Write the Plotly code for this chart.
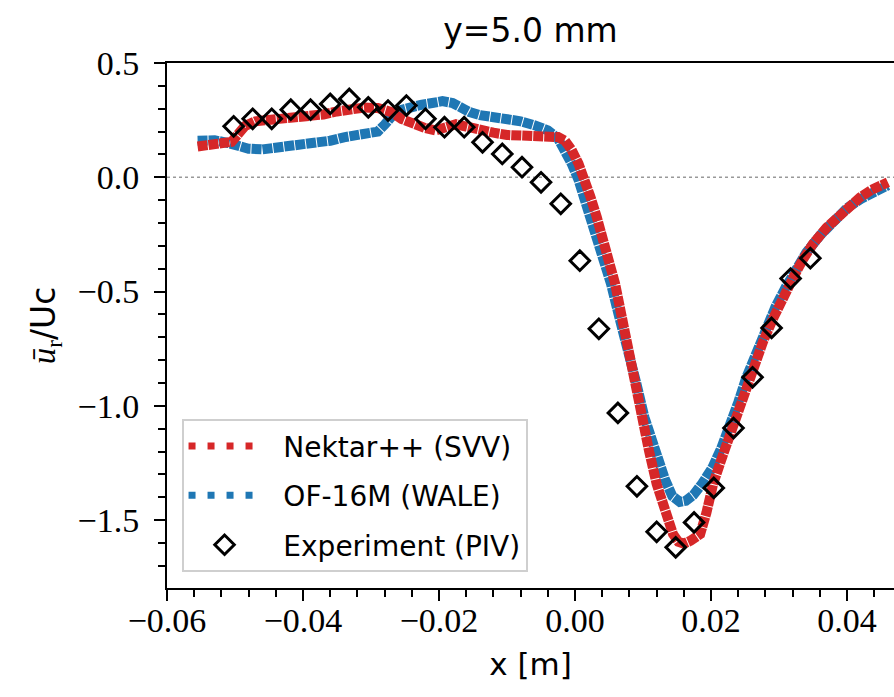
import plotly.graph_objects as go

# Radial velocity profile at y = 5.0 mm
# Nektar++ (SVV)
nek_x = [-0.0555, -0.0530, -0.0505, -0.0495, -0.0485, -0.0470, -0.0450, -0.0430,
         -0.0410, -0.0390, -0.0370, -0.0350, -0.0330, -0.0310, -0.0290, -0.0270,
         -0.0255, -0.0240, -0.0220, -0.0205, -0.0190, -0.0175, -0.0160, -0.0140,
         -0.0120, -0.0100, -0.0080, -0.0060, -0.0040, -0.0025, -0.0015, -0.0005,
         0.0005, 0.0013, 0.0022, 0.0032, 0.0045, 0.0059, 0.0068, 0.0078, 0.0088,
         0.0098, 0.0109, 0.0120, 0.0132, 0.0144, 0.0152, 0.0160, 0.0170, 0.0184,
         0.0193, 0.0203, 0.0218, 0.0233, 0.0248, 0.0262, 0.0277, 0.0292, 0.0306,
         0.0321, 0.0335, 0.0350, 0.0370, 0.0390, 0.0405, 0.0419, 0.0436, 0.0453,
         0.0460]
nek_u = [0.135, 0.140, 0.155, 0.190, 0.225, 0.245, 0.250, 0.258,
         0.265, 0.268, 0.275, 0.288, 0.300, 0.305, 0.303, 0.285,
         0.255, 0.235, 0.215, 0.205, 0.215, 0.232, 0.222, 0.205,
         0.195, 0.185, 0.180, 0.178, 0.177, 0.176, 0.160, 0.120,
         0.060, 0.000, -0.080, -0.175, -0.310, -0.467, -0.600, -0.758, -0.905,
         -1.050, -1.200, -1.342, -1.460, -1.561, -1.595, -1.603, -1.590, -1.561,
         -1.470, -1.342, -1.210, -1.079, -0.950, -0.831, -0.715, -0.613, -0.520,
         -0.438, -0.360, -0.291, -0.220, -0.160, -0.120, -0.088, -0.055, -0.029,
         -0.022]

# OF-16M (WALE)
of_x = [-0.0555, -0.0530, -0.0510, -0.0495, -0.0480, -0.0460, -0.0440, -0.0420,
        -0.0400, -0.0380, -0.0360, -0.0340, -0.0320, -0.0300, -0.0290, -0.0280,
        -0.0270, -0.0255, -0.0240, -0.0225, -0.0210, -0.0195, -0.0180, -0.0170,
        -0.0155, -0.0140, -0.0120, -0.0100, -0.0080, -0.0060, -0.0040, -0.0025,
        -0.0015, -0.0005, 0.0005, 0.0015, 0.0028, 0.0040, 0.0053, 0.0064, 0.0076,
        0.0090, 0.0102, 0.0118, 0.0132, 0.0143, 0.0154, 0.0163, 0.0174, 0.0187,
        0.0202, 0.0215, 0.0227, 0.0240, 0.0252, 0.0266, 0.0280, 0.0295, 0.0310,
        0.0325, 0.0340, 0.0360, 0.0380, 0.0400, 0.0420, 0.0440, 0.0460]
of_u = [0.160, 0.162, 0.150, 0.135, 0.125, 0.122, 0.128, 0.135,
        0.140, 0.148, 0.160, 0.175, 0.188, 0.190, 0.200, 0.230,
        0.265, 0.295, 0.310, 0.318, 0.325, 0.333, 0.325, 0.305,
        0.285, 0.272, 0.265, 0.258, 0.245, 0.228, 0.205, 0.170,
        0.120, 0.060, -0.010, -0.100, -0.220, -0.340, -0.467, -0.600, -0.758,
        -0.900, -1.050, -1.200, -1.320, -1.395, -1.420, -1.415, -1.390, -1.340,
        -1.270, -1.185, -1.095, -0.985, -0.875, -0.765, -0.660, -0.565, -0.480,
        -0.400, -0.330, -0.255, -0.190, -0.135, -0.095, -0.062, -0.035]

# Experiment (PIV)
piv_x = [-0.0502, -0.0474, -0.0446, -0.0418, -0.0389, -0.0360, -0.0332, -0.0304,
         -0.0275, -0.0248, -0.0220, -0.0192, -0.0163, -0.0136, -0.0107, -0.0078,
         -0.0050, -0.0021, 0.0007, 0.0035, 0.0063, 0.0091, 0.0120, 0.0148,
         0.0175, 0.0204, 0.0233, 0.0261, 0.0289, 0.0317, 0.0346]
piv_u = [0.223, 0.256, 0.256, 0.296, 0.296, 0.321, 0.343, 0.306,
         0.292, 0.314, 0.256, 0.219, 0.219, 0.153, 0.102, 0.044,
         -0.022, -0.116, -0.365, -0.663, -1.031, -1.352, -1.551, -1.619,
         -1.510, -1.359, -1.097, -0.875, -0.659, -0.443, -0.354]

RED = "#d62728"
BLUE = "#1f77b4"
SANS = "DejaVu Sans"
SERIF = "Liberation Serif"
NBSP = "\u00a0"

fig = go.Figure()

fig.add_trace(go.Scatter(x=of_x, y=of_u, mode="lines", showlegend=False,
                         line=dict(color=BLUE, width=10, dash="10px,1px")))
fig.add_trace(go.Scatter(x=nek_x, y=nek_u, mode="lines", showlegend=False,
                         line=dict(color=RED, width=10, dash="10px,1px")))
fig.add_trace(go.Scatter(x=piv_x, y=piv_u, mode="markers", showlegend=False,
                         marker=dict(symbol="diamond-open", size=15, color="black",
                                     line=dict(width=3, color="black"))))

# legend entries
fig.add_trace(go.Scatter(x=[None], y=[None], mode="lines", legendgroup="a",
                         name=NBSP * 2 + "Nektar++ (SVV)",
                         line=dict(color=RED, width=7, dash="7px,12px")))
fig.add_trace(go.Scatter(x=[None], y=[None], mode="lines", legendgroup="b",
                         name=NBSP * 2 + "OF-16M (WALE)",
                         line=dict(color=BLUE, width=7, dash="7px,12px")))
fig.add_trace(go.Scatter(x=[None], y=[None], mode="markers", legendgroup="c",
                         name=NBSP * 2 + "Experiment (PIV)",
                         marker=dict(symbol="diamond-open", size=15, color="black",
                                     line=dict(width=3, color="black"))))

# zero reference line
fig.add_shape(type="line", xref="x", yref="y", x0=-0.06, x1=0.0469, y0=0, y1=0,
              line=dict(color="#999999", width=1.5, dash="3px,3px"), layer="below")

fig.update_layout(
    width=894, height=697,
    margin=dict(l=167, r=0, t=63, b=109),
    paper_bgcolor="white", plot_bgcolor="white",
    title=dict(text="y=5.0 mm", x=(167 + 894) / 2 / 894, xanchor="center",
               y=1 - 30 / 697, yanchor="middle",
               font=dict(family=SANS, size=33, color="black")),
    legend=dict(x=0.02, y=0.03, xanchor="left", yanchor="bottom",
                bgcolor="rgba(255,255,255,0.85)", bordercolor="#cfcfcf", borderwidth=2,
                font=dict(family=SANS, size=28, color="black"),
                itemwidth=72, tracegroupgap=10),
    showlegend=True,
)

fig.update_xaxes(
    range=[-0.06, 0.0469], tickvals=[-0.06, -0.04, -0.02, 0.0, 0.02, 0.04],
    ticktext=["\u22120.06", "\u22120.04", "\u22120.02", "0.00", "0.02", "0.04"],
    ticks="outside", ticklen=11, tickwidth=2, tickcolor="black",
    minor=dict(dtick=0.004, tick0=0, ticks="outside", ticklen=7, tickwidth=1.5,
               tickcolor="black", showgrid=False),
    showline=True, linewidth=2, linecolor="black", mirror=True,
    showgrid=False, zeroline=False,
    tickfont=dict(family=SERIF, size=34, color="black"),
    ticklabelstandoff=-10,
    title=dict(text="x [m]", font=dict(family=SANS, size=31, color="black"), standoff=16),
)
fig.update_yaxes(
    range=[-1.797, 0.5], tickvals=[0.5, 0.0, -0.5, -1.0, -1.5],
    ticktext=["0.5", "0.0", "\u22120.5", "\u22121.0", "\u22121.5"],
    ticks="outside", ticklen=11, tickwidth=2, tickcolor="black",
    minor=dict(dtick=0.1, tick0=0, ticks="outside", ticklen=7, tickwidth=1.5,
               tickcolor="black", showgrid=False),
    showline=True, linewidth=2, linecolor="black", mirror=False,
    showgrid=False, zeroline=False,
    tickfont=dict(family=SERIF, size=34, color="black"),
    ticklabelstandoff=8,
    title=dict(text="<span style=\"font-family:'Liberation Serif'\"><i>\u016b</i><sub>r</sub></span>/Uc",
               font=dict(family=SANS, size=33, color="black"), standoff=12),
)

fig.write_html("out.html")
